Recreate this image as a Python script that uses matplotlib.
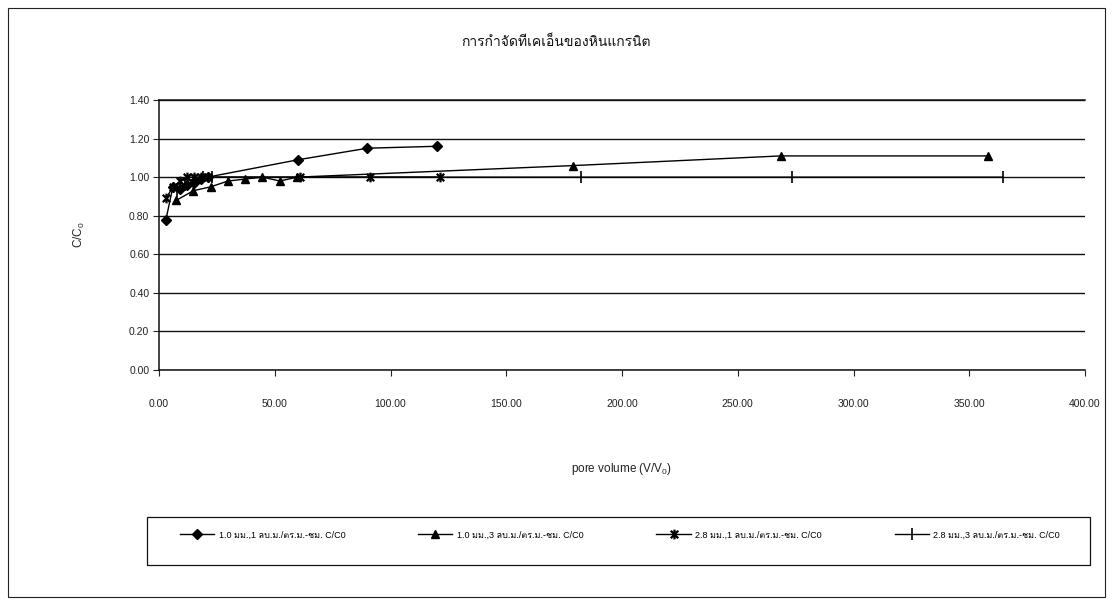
import matplotlib
matplotlib.use("Agg")
import matplotlib.pyplot as plt
from matplotlib import font_manager
from matplotlib.path import Path
from matplotlib.patches import Rectangle

# ---- data -------------------------------------------------------------
title = "การกำจัดทีเคเอ็นของหินแกรนิต"
x_label = "pore volume (V/V$_0$)"
y_label = "C/C$_0$"

labels = [
    "1.0 มม.,1 ลบ.ม./ตร.ม.-ชม. C/C0",
    "1.0 มม.,3 ลบ.ม./ตร.ม.-ชม. C/C0",
    "2.8 มม.,1 ลบ.ม./ตร.ม.-ชม. C/C0",
    "2.8 มม.,3 ลบ.ม./ตร.ม.-ชม. C/C0",
]

s1_x = [3.0, 6.0, 9.0, 12.0, 15.0, 18.0, 21.0, 60.0, 90.0, 120.0]
s1_y = [0.78, 0.95, 0.94, 0.96, 0.97, 0.99, 1.00, 1.09, 1.15, 1.16]

s2_x = [7.5, 14.9, 22.4, 29.8, 37.3, 44.7, 52.2, 59.7, 179.0, 268.5, 358.0]
s2_y = [0.88, 0.93, 0.95, 0.98, 0.99, 1.00, 0.98, 1.00, 1.06, 1.11, 1.11]

s3_x = [3.0, 6.1, 9.1, 12.2, 15.2, 18.2, 21.3, 60.7, 91.1, 121.5]
s3_y = [0.89, 0.95, 0.98, 1.00, 1.00, 1.00, 1.00, 1.00, 1.00, 1.00]

s4_x = [7.6, 11.4, 15.2, 19.0, 22.8, 182.2, 273.3, 364.4]
s4_y = [0.93, 0.96, 0.98, 1.00, 1.00, 1.00, 1.00, 1.00]

x_ticks = [0, 50, 100, 150, 200, 250, 300, 350, 400]
y_ticks = [0.0, 0.2, 0.4, 0.6, 0.8, 1.0, 1.2, 1.4]


# ---- fonts ------------------------------------------------------------
def find_family_with(char):
    """Return the name of an installed font family that has a glyph for char."""
    try:
        from fontTools.ttLib import TTFont
    except ImportError:
        return None
    code = ord(char)
    for entry in font_manager.fontManager.ttflist:
        try:
            font = TTFont(entry.fname, fontNumber=0, lazy=True)
            cmap = font.getBestCmap()
            if cmap and code in cmap:
                return entry.name
        except Exception:
            continue
    return None


thai_family = find_family_with("ก")
families = ["Liberation Sans"]
if thai_family:
    families.append(thai_family)
families.append("DejaVu Sans")
plt.rcParams["font.family"] = families
plt.rcParams["mathtext.fontset"] = "custom"
plt.rcParams["mathtext.rm"] = "Liberation Sans"
plt.rcParams["mathtext.it"] = "Liberation Sans"

# Excel-style star: an X with a vertical stroke
star = Path(
    [(-1, -1), (1, 1), (-1, 1), (1, -1), (0, -1.3), (0, 1.3)],
    [Path.MOVETO, Path.LINETO, Path.MOVETO, Path.LINETO, Path.MOVETO, Path.LINETO],
)

# ---- figure -----------------------------------------------------------
W, H = 1113, 607
fig = plt.figure(figsize=(W / 100, H / 100), dpi=100)
fig.patch.set_facecolor("white")

# outer chart border
fig.patches.append(
    Rectangle((8 / W, 1 - 597 / H), (1105 - 8) / W, (597 - 8) / H,
              transform=fig.transFigure, fill=False, edgecolor="#222222",
              linewidth=0.8)
)
# legend border
fig.patches.append(
    Rectangle((147 / W, 1 - 565 / H), (1090 - 147) / W, (565 - 517) / H,
              transform=fig.transFigure, fill=False, edgecolor="#111111",
              linewidth=0.9)
)

ax = fig.add_axes([159 / W, 1 - 370 / H, (1085 - 159) / W, (370 - 100) / H])
ax.set_xlim(0, 400)
ax.set_ylim(0, 1.4)
ax.set_xticks(x_ticks)
ax.set_yticks(y_ticks)
ax.set_xticklabels([f"{v:.2f}" for v in x_ticks])
ax.set_yticklabels([f"{v:.2f}" for v in y_ticks])
ax.tick_params(axis="both", labelsize=7.5, colors="#222222", width=0.8)
ax.tick_params(axis="x", direction="out", length=4, pad=17)
ax.tick_params(axis="y", direction="out", length=4, pad=3)

ax.spines["right"].set_visible(False)
for side in ("left", "bottom", "top"):
    ax.spines[side].set_linewidth(1.1)
    ax.spines[side].set_color("#111111")

ax.grid(axis="y", color="#111111", linewidth=1.0)
ax.set_axisbelow(True)

ax.plot(s1_x, s1_y, color="black", linewidth=1.0, marker="D", markersize=4.8,
        label=labels[0])
ax.plot(s2_x, s2_y, color="black", linewidth=1.0, marker="^", markersize=5.8,
        label=labels[1])
ax.plot(s3_x, s3_y, color="black", linewidth=1.0, marker=star, markersize=7,
        markeredgewidth=1.6, label=labels[2])
ax.plot(s4_x, s4_y, color="black", linewidth=1.0, marker="|", markersize=8,
        markeredgewidth=1.2, label=labels[3])

ax.set_xlabel(x_label, fontsize=8.5, color="#222222", labelpad=37)
ax.set_ylabel(y_label, fontsize=8.5, color="#222222", labelpad=30)

fig.text(556 / W, 1 - 42 / H, title, ha="center", va="center",
         fontsize=10, color="#111111")

leg = fig.legend(
    loc="center",
    bbox_to_anchor=(180 / W, 1 - 541 / H, (1060 - 180) / W, 12 / H),
    mode="expand", ncol=4, fontsize=6.5, handlelength=3.8,
    handletextpad=0.5, frameon=False, borderpad=0, borderaxespad=0,
)

fig.savefig("out.png", dpi=100, facecolor="white")
